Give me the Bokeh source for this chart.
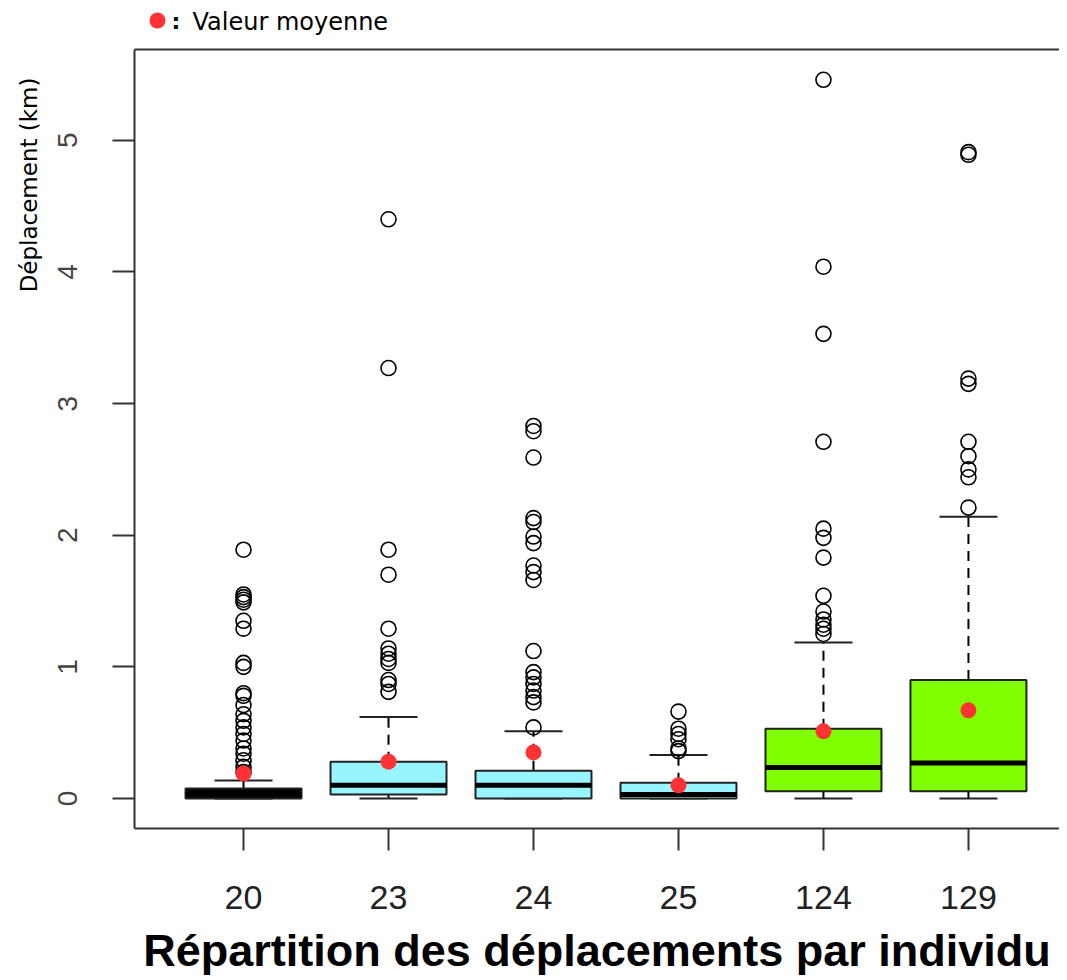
import math
from bokeh.plotting import figure
from bokeh.layouts import column
from bokeh.models import FixedTicker, Range1d, LinearAxis, Title
from bokeh.embed import file_html
from bokeh.resources import INLINE
from bokeh.core.properties import value

# ---------------- data ----------------
groups = ["20", "23", "24", "25", "124", "129"]
q1 = [0.0, 0.03, 0.0, 0.0, 0.055, 0.055]
medians = [0.03, 0.10, 0.10, 0.03, 0.235, 0.27]
q3 = [0.075, 0.28, 0.21, 0.12, 0.53, 0.90]
whisker_low = [0.0, 0.0, 0.0, 0.0, 0.0, 0.0]
whisker_high = [0.137, 0.62, 0.51, 0.33, 1.185, 2.14]
means = [0.19, 0.28, 0.35, 0.10, 0.51, 0.67]
box_colors = ["black", "#98F5FF", "#98F5FF", "#98F5FF", "#7FFF00", "#7FFF00"]

outliers_20 = [1.89, 1.55, 1.53, 1.51, 1.49, 1.35, 1.29, 1.03, 1.00, 0.80, 0.78,
               0.71, 0.64, 0.59, 0.54, 0.49, 0.44, 0.38, 0.34, 0.29, 0.24, 0.20]
outliers_23 = [4.40, 3.27, 1.89, 1.70, 1.29, 1.14, 1.10, 1.06, 1.03, 0.90, 0.87, 0.81]
outliers_24 = [2.83, 2.79, 2.59, 2.13, 2.10, 1.99, 1.94, 1.77, 1.72, 1.66, 1.12,
               0.96, 0.92, 0.87, 0.82, 0.77, 0.73, 0.54]
outliers_25 = [0.66, 0.53, 0.49, 0.45, 0.38, 0.36]
outliers_124 = [5.46, 4.04, 3.53, 2.71, 2.05, 1.98, 1.83, 1.54, 1.42, 1.36, 1.32, 1.29, 1.25]
outliers_129 = [4.91, 4.89, 3.19, 3.15, 2.71, 2.60, 2.50, 2.44, 2.21]
outliers = [outliers_20, outliers_23, outliers_24, outliers_25, outliers_124, outliers_129]

y_ticks = [0, 1, 2, 3, 4, 5]
legend_text = "Valeur moyenne"
y_title = "Déplacement (km)"
x_title = "Répartition des déplacements par individu"

W = 1059
LEFT = 134

# ---------------- legend strip (frame aligned with main frame) ----------------
leg = figure(width=W, height=40, output_backend="svg", toolbar_location=None,
             x_range=Range1d(LEFT, W), y_range=Range1d(40, 0),
             min_border=0, min_border_left=LEFT, outline_line_color=None)
leg.axis.visible = False
leg.grid.visible = False
leg.scatter([157], [20], marker="circle", size=16, fill_color="#FF3333", line_color=None)
leg.text([171], [21], text=[":"], text_font=value("DejaVu Sans"), text_font_style="bold",
         text_font_size="22px", text_baseline="middle", text_align="left",
         text_color="black")
leg.text([192], [21], text=[legend_text], text_font=value("DejaVu Sans"),
         text_font_size="24px", text_baseline="middle", text_align="left",
         text_color="black")

# ---------------- main figure ----------------
pos = list(range(1, len(groups) + 1))

p = figure(width=W, height=938, output_backend="svg", toolbar_location=None,
           x_range=Range1d(0.248, 6.628), y_range=Range1d(-0.228, 5.69),
           min_border_left=LEFT, min_border_top=9, min_border_bottom=130,
           min_border_right=0)
p.outline_line_color = None
p.grid.visible = False
p.background_fill_color = "white"
p.border_fill_color = "white"

ya = p.left[0]
xa = p.below[0]

# y axis
ya.ticker = FixedTicker(ticks=y_ticks)
ya.major_tick_out = 22
ya.major_tick_in = 0
ya.minor_tick_out = 0
ya.minor_tick_in = 0
ya.axis_line_width = 2
ya.axis_line_color = "#333333"
ya.major_tick_line_width = 2
ya.major_tick_line_color = "#333333"
ya.major_label_orientation = "parallel"
ya.major_label_text_font = "Liberation Sans"
ya.major_label_text_font_size = "28px"
ya.major_label_text_color = "#444444"
ya.major_label_standoff = 35

# x axis
xa.ticker = FixedTicker(ticks=pos)
xa.major_label_overrides = {i: g for i, g in zip(pos, groups)}
xa.major_tick_out = 22
xa.major_tick_in = 0
xa.minor_tick_out = 0
xa.minor_tick_in = 0
xa.axis_line_width = 2
xa.axis_line_color = "#333333"
xa.major_tick_line_width = 2
xa.major_tick_line_color = "#333333"
xa.major_label_text_font = "Liberation Sans"
xa.major_label_text_font_size = "34px"
xa.major_label_text_color = "#222222"
xa.major_label_standoff = 35
xa.axis_label = x_title
xa.axis_label_text_font = "Liberation Sans"
xa.axis_label_text_font_style = "bold"
xa.axis_label_text_font_size = "45px"
xa.axis_label_text_color = "black"
xa.axis_label_standoff = 13

# top frame line via an empty axis
top_axis = LinearAxis(major_tick_out=0, major_tick_in=0, minor_tick_out=0, minor_tick_in=0,
                      major_label_text_font_size="0px", major_label_standoff=0,
                      axis_line_width=2, axis_line_color="#333333")
top_axis.ticker = FixedTicker(ticks=[])
p.add_layout(top_axis, "above")

# y title, near the top of the left margin
p.add_layout(Title(text=y_title, align="right", offset=28, standoff=27,
                   text_font="DejaVu Sans", text_font_style="normal",
                   text_font_size="23px", text_color="black"), "left")

# whiskers (dashed) and caps
p.segment(x0=pos, y0=q3, x1=pos, y1=whisker_high, line_color="black",
          line_width=2, line_dash="10 7")
p.segment(x0=pos, y0=q1, x1=pos, y1=whisker_low, line_color="black",
          line_width=2, line_dash="10 7")
p.segment(x0=[x - 0.2 for x in pos], y0=whisker_high, x1=[x + 0.2 for x in pos],
          y1=whisker_high, line_color="#222222", line_width=2)
p.segment(x0=[x - 0.2 for x in pos], y0=whisker_low, x1=[x + 0.2 for x in pos],
          y1=whisker_low, line_color="#222222", line_width=2)

# boxes
p.vbar(x=pos, bottom=q1, top=q3, width=0.8, fill_color=box_colors,
       line_color="#222222", line_width=2)
# medians
p.segment(x0=[x - 0.4 for x in pos], y0=medians, x1=[x + 0.4 for x in pos],
          y1=medians, line_color="black", line_width=5)

# outliers
ox, oy = [], []
for x, outs in zip(pos, outliers):
    for v in outs:
        ox.append(x)
        oy.append(v)
p.scatter(ox, oy, marker="circle", size=15, fill_color=None, line_color="black",
          line_width=1.6)

# means
p.scatter(pos, means, marker="circle", size=16, fill_color="#FF3333", line_color=None)

layout = column(leg, p, spacing=0)
open("out.html", "w").write(file_html(layout, INLINE))
